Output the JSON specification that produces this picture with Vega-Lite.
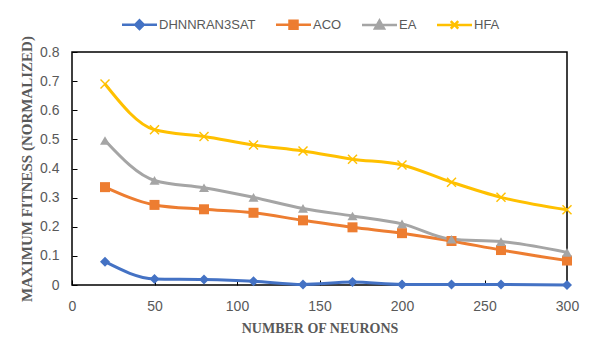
{
  "$schema": "https://vega.github.io/schema/vega-lite/v6.json",
  "width": 495,
  "height": 233,
  "autosize": {"type": "none"},
  "padding": {"left": 72, "top": 52, "right": 33, "bottom": 64},
  "background": "white",
  "config": {
    "view": {"stroke": "black", "strokeWidth": 1.5},
    "font": "Liberation Sans"
  },
  "data": {
    "values": [
      {"n": 20, "series": "DHNNRAN3SAT", "value": 0.08},
      {"n": 50, "series": "DHNNRAN3SAT", "value": 0.021},
      {"n": 80, "series": "DHNNRAN3SAT", "value": 0.019},
      {"n": 110, "series": "DHNNRAN3SAT", "value": 0.013},
      {"n": 140, "series": "DHNNRAN3SAT", "value": 0.002},
      {"n": 170, "series": "DHNNRAN3SAT", "value": 0.01},
      {"n": 200, "series": "DHNNRAN3SAT", "value": 0.002},
      {"n": 230, "series": "DHNNRAN3SAT", "value": 0.002},
      {"n": 260, "series": "DHNNRAN3SAT", "value": 0.002},
      {"n": 300, "series": "DHNNRAN3SAT", "value": 0.0},
      {"n": 20, "series": "ACO", "value": 0.336},
      {"n": 50, "series": "ACO", "value": 0.275},
      {"n": 80, "series": "ACO", "value": 0.26},
      {"n": 110, "series": "ACO", "value": 0.248},
      {"n": 140, "series": "ACO", "value": 0.222},
      {"n": 170, "series": "ACO", "value": 0.198},
      {"n": 200, "series": "ACO", "value": 0.178},
      {"n": 230, "series": "ACO", "value": 0.151},
      {"n": 260, "series": "ACO", "value": 0.12},
      {"n": 300, "series": "ACO", "value": 0.084},
      {"n": 20, "series": "EA", "value": 0.496},
      {"n": 50, "series": "EA", "value": 0.359},
      {"n": 80, "series": "EA", "value": 0.334},
      {"n": 110, "series": "EA", "value": 0.301},
      {"n": 140, "series": "EA", "value": 0.263},
      {"n": 170, "series": "EA", "value": 0.237},
      {"n": 200, "series": "EA", "value": 0.21},
      {"n": 230, "series": "EA", "value": 0.157},
      {"n": 260, "series": "EA", "value": 0.149},
      {"n": 300, "series": "EA", "value": 0.112},
      {"n": 20, "series": "HFA", "value": 0.69},
      {"n": 50, "series": "HFA", "value": 0.533},
      {"n": 80, "series": "HFA", "value": 0.51},
      {"n": 110, "series": "HFA", "value": 0.481},
      {"n": 140, "series": "HFA", "value": 0.46},
      {"n": 170, "series": "HFA", "value": 0.432},
      {"n": 200, "series": "HFA", "value": 0.412},
      {"n": 230, "series": "HFA", "value": 0.353},
      {"n": 260, "series": "HFA", "value": 0.301},
      {"n": 300, "series": "HFA", "value": 0.258}
    ]
  },
  "encoding": {
    "x": {
      "field": "n",
      "type": "quantitative",
      "scale": {"domain": [0, 300], "nice": false, "zero": false},
      "axis": {
        "title": "NUMBER OF NEURONS",
        "titleFont": "Liberation Serif",
        "titleFontWeight": "bold",
        "titleFontSize": 14,
        "titleColor": "#595959",
        "titlePadding": 8,
        "values": [0, 50, 100, 150, 200, 250, 300],
        "labelFontSize": 14,
        "labelColor": "#595959",
        "labelPadding": 19,
        "tickSize": -5,
        "tickColor": "black",
        "domain": false,
        "grid": false,
        "labelFlush": false
      }
    },
    "y": {
      "field": "value",
      "type": "quantitative",
      "scale": {"domain": [0, 0.8], "nice": false},
      "axis": {
        "title": "MAXIMUM FITNESS (NORMALIZED)",
        "titleFont": "Liberation Serif",
        "titleFontWeight": "bold",
        "titleFontSize": 15,
        "titleColor": "#595959",
        "titlePadding": 5,
        "values": [0, 0.1, 0.2, 0.3, 0.4, 0.5, 0.6, 0.7, 0.8],
        "format": ".1~f",
        "labelFontSize": 14,
        "labelColor": "#595959",
        "labelPadding": 18,
        "tickSize": -5,
        "tickColor": "black",
        "domain": false,
        "grid": false
      }
    }
  },
  "layer": [
    {
      "mark": {"type": "line", "interpolate": "monotone", "strokeWidth": 3},
      "encoding": {
        "color": {
          "field": "series",
          "type": "nominal",
          "sort": ["DHNNRAN3SAT", "ACO", "EA", "HFA"],
          "scale": {
            "domain": ["DHNNRAN3SAT", "ACO", "EA", "HFA"],
            "range": ["#4472C4", "#ED7D31", "#A5A5A5", "#FFC000"]
          },
          "legend": {
            "title": null,
            "orient": "none",
            "legendX": 48,
            "legendY": -34,
            "direction": "horizontal",
            "labelFontSize": 13,
            "labelColor": "#595959",
            "symbolSize": 100,
            "symbolStrokeWidth": 2.5,
            "symbolOffset": 13,
            "labelOffset": 13,
            "columnPadding": 15,
            "encode": {
              "symbols": {
                "update": {
                  "shape": {"signal": "datum.value === 'DHNNRAN3SAT' ? 'M-3.5,0L3.5,0M0,-0.85L0.85,0L0,0.85L-0.85,0Z' : datum.value === 'ACO' ? 'M-3.5,0L3.5,0M-0.8,-0.8L0.8,-0.8L0.8,0.8L-0.8,0.8Z' : datum.value === 'EA' ? 'M-3.5,0L3.5,0M0,-0.9L0.9,0.7L-0.9,0.7Z' : 'M-3.5,0L3.5,0M-0.75,-0.75L0.75,0.75M-0.75,0.75L0.75,-0.75'"},
                  "fill": {"signal": "scale('color', datum.value)"},
                  "strokeWidth": {"value": 2.5},
                  "opacity": {"value": 1}
                }
              }
            }
          }
        }
      }
    },
    {
      "transform": [{"filter": "datum.series === 'DHNNRAN3SAT'"}],
      "mark": {"type": "point", "shape": "diamond", "filled": true, "opacity": 1, "size": 100, "color": "#4472C4"}
    },
    {
      "transform": [{"filter": "datum.series === 'ACO'"}],
      "mark": {"type": "point", "shape": "square", "filled": true, "opacity": 1, "size": 100, "color": "#ED7D31"}
    },
    {
      "transform": [{"filter": "datum.series === 'EA'"}],
      "mark": {"type": "point", "shape": "triangle-up", "filled": true, "opacity": 1, "size": 100, "color": "#A5A5A5"}
    },
    {
      "transform": [{"filter": "datum.series === 'HFA'"}],
      "mark": {"type": "point", "shape": "M-1,-0.8L-0.8,-1L0,-0.2L0.8,-1L1,-0.8L0.2,0L1,0.8L0.8,1L0,0.2L-0.8,1L-1,0.8L-0.2,0Z", "filled": true, "opacity": 1, "size": 100, "color": "#FFC000"}
    }
  ]
}
